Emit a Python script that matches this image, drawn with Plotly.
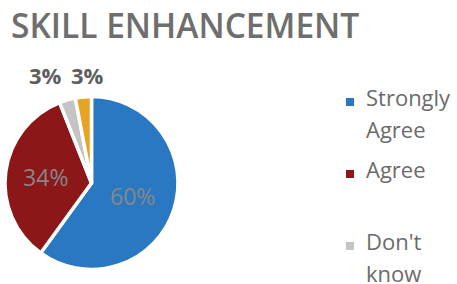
import plotly.graph_objects as go

categories = ["Strongly Agree", "Agree", "Don't know", "Disagree"]
legend_lines = [["Strongly", "Agree"], ["Agree"], ["Don't", "know"], ["Disagree"]]
values = [60, 34, 3, 3]
colors = ["#2b78c2", "#8b1718", "#c4c4c4", "#e5a423"]
show_inside = [True, True, False, False]

W, H = 457, 284
cx, cy, r = 91.5, 183, 86.5

total = sum(values)
fig = go.Figure(go.Pie(
    labels=categories,
    values=values,
    sort=False,
    direction="clockwise",
    rotation=0,
    marker=dict(colors=colors, line=dict(color="white", width=3.5)),
    texttemplate=["%{percent:.0%}" if s else "" for s in show_inside],
    textposition="inside",
    insidetextorientation="horizontal",
    insidetextfont=dict(family="Open Sans", size=23, color="#878787"),
    domain=dict(x=[(cx - r) / W, (cx + r) / W], y=[(H - cy - r) / H, (H - cy + r) / H]),
    showlegend=False,
    hoverinfo="label+percent",
))

annotations = []
# outside labels for the small slices
small_label_x = [45, 87]
k = 0
for v, s in zip(values, show_inside):
    if not s:
        annotations.append(dict(text=f"<b>{v / total:.0%}</b>", x=small_label_x[k] / W, y=(H - 75) / H,
                                xref="paper", yref="paper", xanchor="center", yanchor="middle",
                                showarrow=False, borderpad=0,
                                font=dict(family="Open Sans", size=22, color="#5e5e5e")))
        k += 1

# custom legend
entry_top = 97
entry_step = 72
line_step = 32
lx_marker = 350
lx_text = 365
shapes = []
for i, (lines, col) in enumerate(zip(legend_lines, colors)):
    y0 = entry_top + i * entry_step
    if y0 > H:
        continue
    my = y0 + 5
    shapes.append(dict(type="rect", xref="paper", yref="paper",
                       x0=(lx_marker - 4) / W, x1=(lx_marker + 4) / W,
                       y0=(H - my - 4) / H, y1=(H - my + 4) / H,
                       fillcolor=col, line=dict(width=0)))
    for j, t in enumerate(lines):
        yy = y0 + j * line_step
        annotations.append(dict(text=t, x=lx_text / W, y=(H - yy) / H, xref="paper", yref="paper",
                                xanchor="left", yanchor="middle", showarrow=False, borderpad=0,
                                font=dict(family="Open Sans", size=22, color="#6b6b6b")))

annotations.append(dict(text="SKILL ENHANCEMENT", x=10 / W, y=(H - 25) / H,
                        xref="paper", yref="paper", xanchor="left", yanchor="middle",
                        showarrow=False, borderpad=0,
                        font=dict(family="Open Sans", size=33.5, color="#6e6e6e", weight=600)))

fig.update_layout(
    width=W, height=H,
    margin=dict(l=0, r=0, t=0, b=0),
    paper_bgcolor="white", plot_bgcolor="white",
    shapes=shapes, annotations=annotations,
)

fig.write_html("out.html", config={"displayModeBar": False},
               post_script="document.body.style.margin='0';")
